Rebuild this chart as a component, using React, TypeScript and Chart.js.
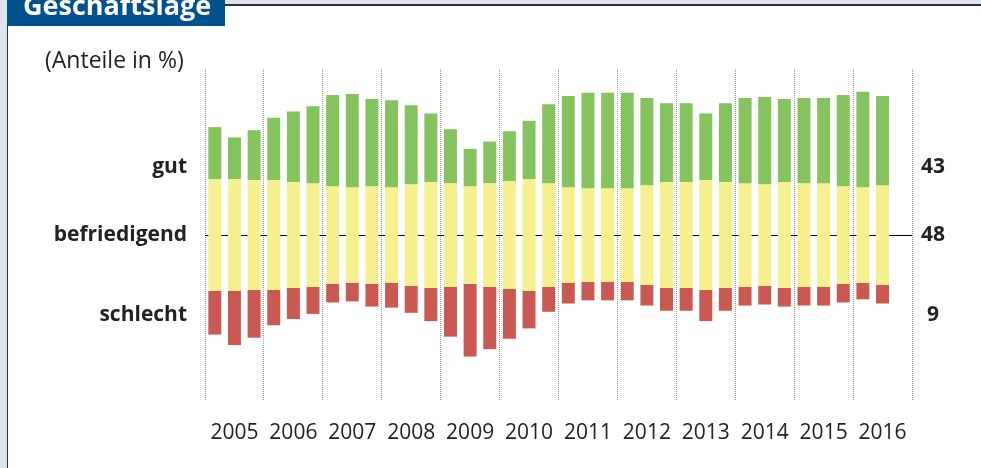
import React, { useEffect, useRef } from "react";
import { Chart, registerables } from "chart.js";

Chart.register(...registerables);

// ---- data ----
const years = ["2005", "2006", "2007", "2008", "2009", "2010", "2011", "2012", "2013", "2014", "2015", "2016"];
const surveyRounds = ["Jahresbeginn", "Frühsommer", "Herbst"];
const periods = years.flatMap((y) => surveyRounds.map((r) => `${r} ${y}`));

const gut = [25, 20, 24, 30, 34, 37, 44, 45, 42, 42, 38, 33, 26, 18, 20, 24, 28, 38, 44, 46, 46, 46, 42, 38, 38, 32, 38, 41, 42, 40, 41, 41, 44, 46, 43];
const befriedigend = [54, 54, 53, 53, 51, 50, 47, 46, 47, 46, 49, 51, 50, 47, 50, 52, 54, 50, 46, 45, 45, 45, 48, 51, 51, 53, 51, 50, 49, 51, 50, 50, 47, 46, 48];
const schlecht = [21, 26, 23, 17, 15, 13, 9, 9, 11, 12, 13, 16, 24, 35, 30, 24, 18, 12, 10, 9, 9, 9, 10, 11, 11, 15, 11, 9, 9, 9, 9, 9, 9, 8, 9];

const categoryNames = ["gut", "befriedigend", "schlecht"];
const title = "Geschäftslage";
const unitLabel = "(Anteile in %)";

// ---- styles ----
const GREEN = "#85c35e";
const YELLOW = "#f6f08e";
const RED = "#c95952";
const BLUE = "#00518c";
const TEXT = "#222222";
const FONT = "'Open Sans', 'Noto Sans', sans-serif";

// y positions (in %-scale units) of the row labels
const LABEL_POS = [33, 0, -38.5];

const greenBars = gut.map((g, i) => [befriedigend[i] / 2, befriedigend[i] / 2 + g]);
const yellowBars = befriedigend.map((b) => [-b / 2, b / 2]);
const redBars = schlecht.map((s, i) => [-befriedigend[i] / 2 - s, -befriedigend[i] / 2]);

const last = gut.length - 1;
const lastValues = [gut[last], befriedigend[last], schlecht[last]];

const framePlugin = {
  id: "frame",
  beforeDraw(chart: any) {
    const ctx = chart.ctx;
    ctx.save();
    ctx.fillStyle = "#ffffff";
    ctx.fillRect(0, 0, chart.width, chart.height);
    ctx.fillStyle = "#dde4ed";
    ctx.fillRect(0, 0, chart.width, 4);
    ctx.fillRect(0, 0, 7, chart.height);
    ctx.fillStyle = "#333333";
    ctx.fillRect(225, 4, chart.width - 225, 2);
    ctx.fillRect(7, 0, 1, chart.height);
    ctx.fillStyle = BLUE;
    ctx.fillRect(7, 0, 218, 26);
    ctx.fillStyle = "#ffffff";
    ctx.font = `bold 27px ${FONT}`;
    ctx.textAlign = "left";
    ctx.textBaseline = "alphabetic";
    ctx.fillText(title, 23, 15);
    ctx.fillStyle = TEXT;
    ctx.font = `23px ${FONT}`;
    ctx.fillText(unitLabel, 45, 68);
    ctx.restore();
  },
};

export default function App() {
  const ref = useRef<HTMLCanvasElement | null>(null);

  useEffect(() => {
    if (!ref.current) return;
    const barCommon = {
      xAxisID: "x",
      yAxisID: "y",
      grouped: false,
      barPercentage: 0.66,
      categoryPercentage: 1,
      borderWidth: 0,
    };
    const chart = new Chart(ref.current, {
      type: "bar",
      data: {
        labels: periods,
        datasets: [
          { ...barCommon, label: categoryNames[0], data: greenBars as any, backgroundColor: GREEN },
          { ...barCommon, label: categoryNames[1], data: yellowBars as any, backgroundColor: YELLOW },
          { ...barCommon, label: categoryNames[2], data: redBars as any, backgroundColor: RED },
        ],
      },
      options: {
        responsive: false,
        animation: false,
        layout: { padding: { top: 69, left: 0, right: 0, bottom: 0 } },
        plugins: {
          legend: { display: false },
          tooltip: { enabled: false },
        },
        scales: {
          x: {
            type: "category",
            labels: periods,
            offset: true,
            display: false,
          },
          x2: {
            type: "category",
            labels: years,
            offset: true,
            position: "bottom",
            grid: {
              offset: true,
              color: "#9a9a9a",
              lineWidth: 1,
              drawTicks: false,
            },
            border: { display: false, dash: [1, 1] },
            ticks: {
              color: TEXT,
              font: { family: FONT, size: 21 },
              padding: 19,
              maxRotation: 0,
              autoSkip: false,
            },
            afterFit: (s: any) => {
              s.height = 67;
            },
          },
          y: {
            position: "left",
            min: -80,
            max: 80,
            z: 1,
            afterBuildTicks: (s: any) => {
              s.ticks = LABEL_POS.map((v) => ({ value: v }));
            },
            ticks: {
              color: TEXT,
              font: { family: FONT, size: 21, weight: "bold" },
              padding: 18,
              callback: (v: any) => categoryNames[LABEL_POS.indexOf(Number(v))],
            },
            grid: {
              drawTicks: false,
              lineWidth: 1,
              color: (c: any) => (c.tick && c.tick.value === 0 ? "#000000" : "rgba(0,0,0,0)"),
            },
            border: { display: false },
            afterFit: (s: any) => {
              s.width = 205;
            },
          },
          y2: {
            position: "right",
            min: -80,
            max: 80,
            afterBuildTicks: (s: any) => {
              s.ticks = LABEL_POS.map((v) => ({ value: v }));
            },
            ticks: {
              color: TEXT,
              font: { family: FONT, size: 21, weight: "bold" },
              padding: 9,
              crossAlign: "center",
              callback: (v: any) => String(lastValues[LABEL_POS.indexOf(Number(v))]),
            },
            grid: { display: false, drawTicks: false },
            border: { display: false },
            afterFit: (s: any) => {
              s.width = 69;
            },
          },
        },
      } as any,
      plugins: [framePlugin],
    });
    return () => chart.destroy();
  }, []);

  return (
    <div style={{ position: "absolute", left: 0, top: 0, width: 981, height: 468, background: "#fff", overflow: "hidden" }}>
      <canvas ref={ref} width={981} height={468} style={{ display: "block", width: 981, height: 468 }} />
    </div>
  );
}
